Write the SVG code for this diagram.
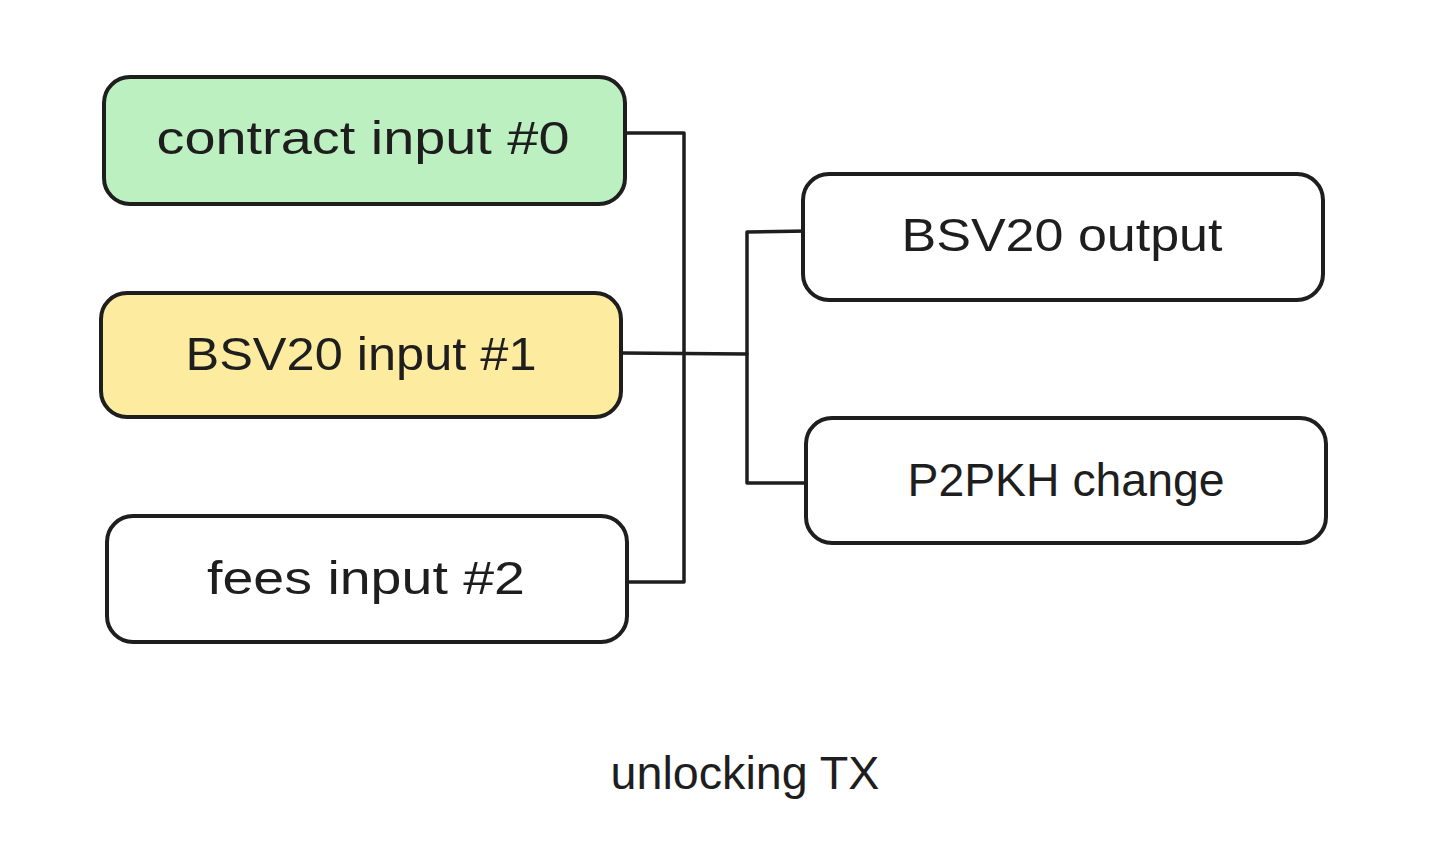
<svg xmlns="http://www.w3.org/2000/svg" width="1430" height="842" viewBox="0 0 1430 842">
<style>
.box{stroke:#1e1e1e;stroke-width:4;stroke-linejoin:round}
.lbl{font-family:"Liberation Sans",Arial,sans-serif;font-size:46px;fill:#1e1e1e;text-anchor:middle}
.wire{fill:none;stroke:#1e1e1e;stroke-width:3.5;stroke-linejoin:round;stroke-linecap:round}
</style>
<rect width="1430" height="842" fill="#ffffff"/>
<g id="connectors">
<polyline class="wire" points="625,133 684,133 684,582 627,582"/>
<line class="wire" x1="621" y1="353" x2="747" y2="354"/>
<polyline class="wire" points="808,231 747,232 747,483 810,483"/>
</g>
<g id="contract-input">
<rect class="box" x="104" y="77" width="521" height="127" rx="26" fill="#bdf0c1"/>
<text class="lbl" x="363" y="154" textLength="413" lengthAdjust="spacingAndGlyphs">contract input #0</text>
</g>
<g id="bsv20-input">
<rect class="box" x="101" y="293" width="520" height="124" rx="26" fill="#fdeba0"/>
<text class="lbl" x="361" y="370" textLength="351" lengthAdjust="spacingAndGlyphs">BSV20 input #1</text>
</g>
<g id="fees-input">
<rect class="box" x="107" y="516" width="520" height="126" rx="26" fill="#ffffff"/>
<text class="lbl" x="366" y="594" textLength="318" lengthAdjust="spacingAndGlyphs">fees input #2</text>
</g>
<g id="bsv20-output">
<rect class="box" x="803" y="174" width="520" height="126" rx="26" fill="#ffffff"/>
<text class="lbl" x="1062" y="251" textLength="321" lengthAdjust="spacingAndGlyphs">BSV20 output</text>
</g>
<g id="p2pkh-change">
<rect class="box" x="806" y="418" width="520" height="125" rx="26" fill="#ffffff"/>
<text class="lbl" x="1066" y="496" textLength="317" lengthAdjust="spacingAndGlyphs">P2PKH change</text>
</g>
<g id="caption">
<text class="lbl" x="745" y="789" textLength="269" lengthAdjust="spacingAndGlyphs">unlocking TX</text>
</g>
</svg>
